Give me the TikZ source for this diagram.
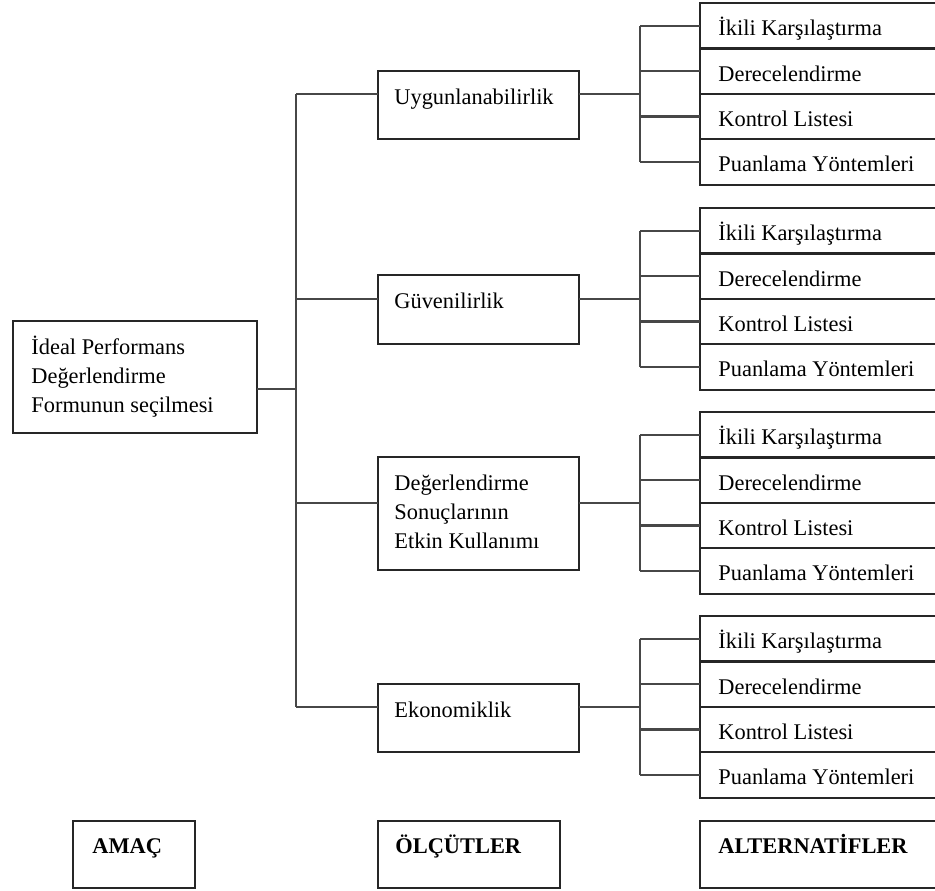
\documentclass[tikz,border=0pt]{standalone}
\usepackage{fontspec}
\setmainfont{Liberation Serif}
\usetikzlibrary{calc}
\tikzset{
  box/.style={draw=black!85, line width=1.1pt, rectangle, inner sep=0pt, outer sep=0pt, anchor=north west},
  altbox/.style={box, minimum width=122.5pt, minimum height=22.7pt},
  critbox/.style={box, minimum width=100.5pt},
  conn/.style={draw=black!72, line width=1.1pt},
  txt/.style={anchor=base west, inner sep=0pt, font=\fontsize{11.2pt}{14.7pt}\selectfont},
  btxt/.style={txt, font=\fontsize{11.2pt}{14.7pt}\selectfont\bfseries}
}
\newcommand{\mlines}[1]{\begin{tabular}[t]{@{}l@{}}#1\end{tabular}}
\begin{document}
\begin{tikzpicture}[x=0.5pt,y=-0.5pt]
\useasboundingbox (0,0) rectangle (935,890);
\clip (0,0) rectangle (935,890);

% goal
\node[box, minimum width=122pt, minimum height=56pt] (goal) at (13,321) {};
\node[txt] (goalt) at ($(goal.north west)+(18,33)$) {\mlines{İdeal Performans\\Değerlendirme\\Formunun seçilmesi}};

% criteria
\node[critbox, minimum height=34pt]   (c1) at (378,71)  {};
\node[critbox, minimum height=34.5pt] (c2) at (378,275) {};
\node[critbox, minimum height=56.5pt] (c3) at (378,457) {};
\node[critbox, minimum height=34pt]   (c4) at (378,684) {};
\node[txt] (c1t) at ($(c1.north west)+(16,33)$) {Uygunlanabilirlik};
\node[txt] (c2t) at ($(c2.north west)+(16,33)$) {Güvenilirlik};
\node[txt] (c3t) at ($(c3.north west)+(16,33)$) {\mlines{Değerlendirme\\Sonuçlarının\\Etkin Kullanımı}};
\node[txt] (c4t) at ($(c4.north west)+(16,33)$) {Ekonomiklik};

% alternatives
\coordinate (jg) at (296,389);
\foreach \g/\top in {1/3,2/208,3/412,4/616}{
  \foreach \j/\lab in {1/İkili Karşılaştırma,2/Derecelendirme,3/Kontrol Listesi,4/Puanlama Yöntemleri}{
    \node[altbox] (a\g\j) at (700,{\top+45.4*(\j-1)}) {};
    \node[txt] (a\g\j t) at ($(a\g\j.west)+(18,10)$) {\lab};
  }
  \coordinate (t\g) at (296,{\top+90.8});
  \coordinate (s\g) at (640,{\top+90.8});
}

% connectors
\draw[conn] (goal.east |- jg) -- (jg);
\draw[conn] (t1) -- (t4);
\foreach \g in {1,2,3,4}{
  \draw[conn] (t\g) -- (c\g.west |- t\g);
  \draw[conn] (c\g.east |- t\g) -- (s\g);
  \draw[conn] (a\g1.west -| s\g) -- (a\g4.west -| s\g);
  \foreach \j in {1,2,3,4}{
    \draw[conn] (a\g\j.west -| s\g) -- (a\g\j.west);
  }
}

% bottom labels
\node[box, minimum width=61pt, minimum height=33.5pt] (amac) at (73,821) {};
\node[box, minimum width=91pt, minimum height=33.5pt] (olcut) at (378,821) {};
\node[box, minimum width=122.5pt, minimum height=33.5pt] (alter) at (700,821) {};
\node[btxt] (amact) at ($(amac.north west)+(19,32)$) {AMAÇ};
\node[btxt] (olcutt) at ($(olcut.north west)+(17,32)$) {ÖLÇÜTLER};
\node[btxt] (altert) at ($(alter.north west)+(18,32)$) {ALTERNATİFLER};
\end{tikzpicture}
\end{document}
